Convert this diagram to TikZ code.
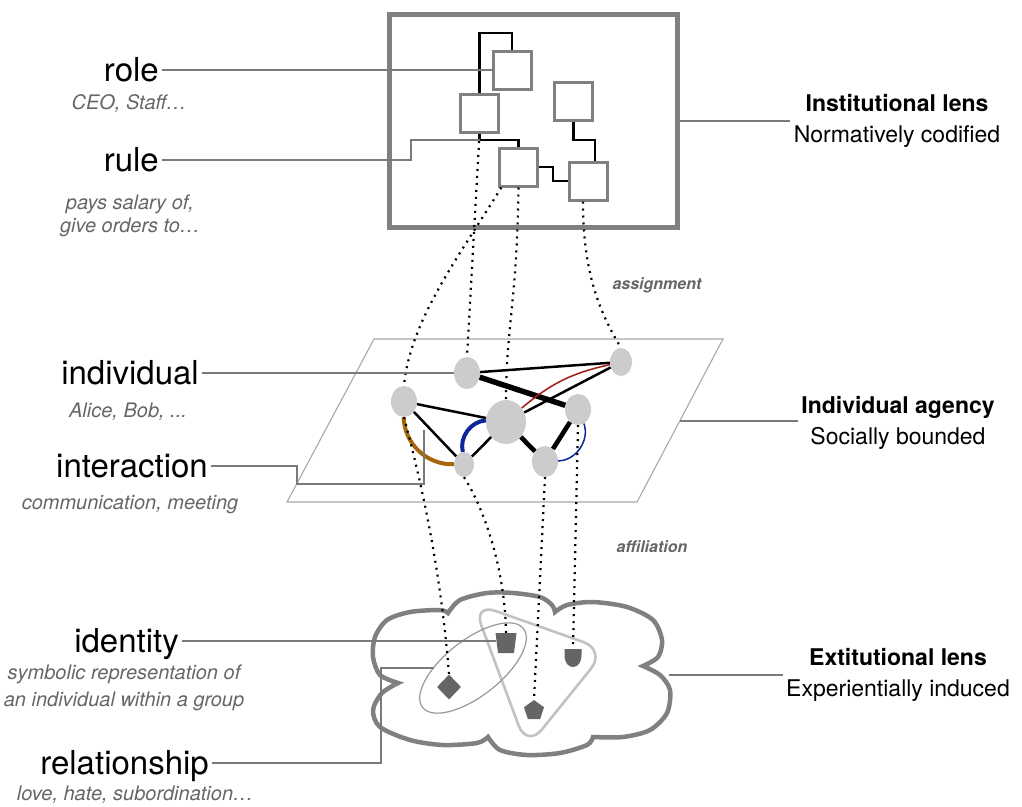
\documentclass[tikz,border=0pt]{standalone}
\usepackage{fontspec}
\setmainfont{TeX Gyre Heros}
\usetikzlibrary{shapes.geometric}

\definecolor{boxgray}{HTML}{808080}
\definecolor{agentgray}{HTML}{CCCCCC}
\definecolor{notegray}{HTML}{666666}
\definecolor{leadgray}{HTML}{7A7A7A}
\definecolor{planegray}{HTML}{A8A8A8}
\definecolor{markgray}{HTML}{656565}
\definecolor{ringgray}{HTML}{999999}
\definecolor{groupgray}{HTML}{C2C2C2}
\definecolor{brownedge}{HTML}{A6650A}
\definecolor{blueedge}{HTML}{0B2699}
\definecolor{rededge}{HTML}{A51A12}

\begin{document}
\begin{tikzpicture}[x=1pt,y=-1pt,
  term/.style={anchor=east,inner xsep=3pt,inner ysep=0pt,text height=23pt,text depth=0pt,font=\fontsize{33}{36}\selectfont},
  note/.style={align=center,text=notegray,font=\fontsize{20}{23}\selectfont\itshape},
  lens/.style={align=center,font=\fontsize{23}{31}\selectfont},
  tag/.style={text=notegray,font=\fontsize{16}{18}\selectfont\bfseries\itshape},
  post/.style={draw=boxgray,line width=3pt,minimum size=38pt,inner sep=0pt},
  agent/.style={ellipse,fill=agentgray,inner sep=0pt},
  marker/.style={fill=markgray,inner sep=0pt},
  leader/.style={draw=leadgray,line width=1.1pt},
  tie/.style={line width=2.5pt},
  strongtie/.style={line width=4.6pt},
  dots/.style={line width=2.2pt,dash pattern=on 2pt off 5pt}]
  \useasboundingbox (0,0) rectangle (1022,806);

  \node [draw=boxgray,line width=5pt,minimum width=288pt,minimum height=213pt] (inst) at (533.5,121) {};
  \node [post] (sqA) at (512,70) {};
  \node [post] (sqB) at (479.5,113.5) {};
  \node [post] (sqC) at (573.5,101.5) {};
  \node [post] (sqD) at (518.5,167) {};
  \node [post] (sqE) at (588,181) {};
  \draw [tie] (sqB.north) -- (sqB.north |- 0,33) -| (sqA.north);
  \draw [tie] (sqB.south) -- (sqB.south |- 0,140) -| (sqD.north);
  \draw [tie] (sqD.east) -| (553,181) -- (sqE.west);
  \draw [tie] (sqC.south) |- ([xshift=7pt]sqE.north |- 0,140) -- ([xshift=7pt]sqE.north);
  \coordinate (ruleend) at (sqB.south |- 0,140);

  \coordinate (pA) at (374,339);
  \coordinate (pB) at (723,339);
  \coordinate (pC) at (637,502);
  \coordinate (pD) at (287,502);
  \coordinate (planeR) at (680,421);
  \draw [planegray,line width=1.1pt] (pA) -- (pB) -- (pC) -- (pD) -- cycle;

  \node [agent,minimum width=26pt,minimum height=32pt] (a1) at (467,373) {};
  \node [agent,minimum width=22pt,minimum height=28pt] (a2) at (621,362) {};
  \node [agent,minimum width=26pt,minimum height=31pt] (a3) at (404,401.5) {};
  \node [agent,minimum width=40pt,minimum height=44pt] (a4) at (506,422) {};
  \node [agent,minimum width=26pt,minimum height=31pt] (a5) at (578,409.5) {};
  \node [agent,minimum width=20pt,minimum height=25pt] (a6) at (464,464.5) {};
  \node [agent,minimum width=26pt,minimum height=31pt] (a7) at (545,461.5) {};
  \draw [tie] (a1) -- (a2);
  \draw [line width=5.5pt] (a1) -- (a5);
  \draw [tie] (a2) -- (a4);
  \draw [rededge,line width=1.5pt] (a4) to [bend left=14] (a2);
  \draw [tie] (a3) -- (a4);
  \draw [tie] (a3) -- (a6);
  \draw [tie] (a4) -- (a6);
  \draw [strongtie] (a4) -- (a7);
  \draw [strongtie] (a5) -- (a7);
  \draw [brownedge,line width=4pt] (a3) to [bend right=45] (a6);
  \draw [blueedge,line width=4pt] (a4) to [bend right=50] (a6);
  \draw [blueedge,line width=1.5pt] (a5) to [bend left=55] (a7);
  \coordinate (tie36) at (424,430);

  \draw [boxgray,line width=4.5pt]
    plot [smooth] coordinates {(398,683) (380,675) (373,657) (375,637) (387,620) (410,612) (440,610) (448,613)}
    -- plot [smooth] coordinates {(448,613) (460,600) (487,593) (513,593) (540,597) (552,605) (555,612)}
    -- plot [smooth] coordinates {(555,612) (567,605) (593,602) (627,607) (653,620) (662,640) (658,657) (643,666)}
    -- plot [smooth] coordinates {(643,666) (660,675) (670,690) (667,713) (650,730) (623,737) (593,737)}
    -- plot [smooth] coordinates {(593,737) (587,745) (560,753) (527,755) (500,750) (488,737)}
    -- plot [smooth] coordinates {(488,737) (477,743) (443,745) (410,740) (380,727) (373,710) (382,693) (398,683)}
    -- cycle;
  \coordinate (cloudR) at (669,675);
  \draw [groupgray,line width=2.6pt,rounded corners=24pt] (473,603) -- (606,650) -- (527,748) -- cycle;
  \draw [ringgray,line width=1.2pt,rotate around={38:(473,668)}] (473,668) ellipse [x radius=64pt,y radius=28pt];
  \coordinate (ringL) at (434,668);

  \node [marker,diamond,minimum width=24pt,minimum height=25pt] (diam) at (449,687) {};
  \node [marker,regular polygon,regular polygon sides=5,minimum size=21pt] (penta) at (534,710.5) {};
  \coordinate (bucket) at (506,633);
  \fill [markgray] (bucket) ++(-10.5,0) -- ++(21,0) -- ++(-2.5,20) -- ++(-16,0) -- cycle;
  \coordinate (shield) at (573,649);
  \fill [markgray] (shield) ++(-8.5,0) -- ++(17,0) -- ++(0,6) .. controls +(0,8) and +(4.5,0) .. ++(-8.5,12) .. controls +(-4.5,0) and +(0,8) .. ++(-8.5,-12) -- cycle;

  \draw [dots] (sqB.south) -- (a1.north);
  \draw [dots] (sqD.230) .. controls (460,255) and (410,320) .. (a3.north);
  \draw [dots] (sqD.south) .. controls (517,300) and (506,330) .. (a4.north);
  \draw [dots] ([xshift=-5pt]sqE.south) .. controls (583,270) and (598,310) .. (a2.north);
  \draw [dots] (a3.south) .. controls (418,470) and (440,560) .. (diam.north);
  \draw [dots] (a6.south) .. controls (485,510) and (505,570) .. (bucket);
  \draw [dots] (a7.south) -- (penta.north);
  \draw [dots] (a5.south) -- (shield);

  \node [tag] (assign) at (657,285) {assignment};
  \node [tag] (affil) at (652,547) {affiliation};

  \node [term] (role) at (162,70) {role};
  \node [note] (roleex) at (129,104) {CEO, Staff…};
  \node [term] (rule) at (162,160) {rule};
  \node [note] (ruleex) at (130,216) {pays salary of,\\give orders to…};
  \node [term] (individual) at (202,373) {individual};
  \node [note] (individualex) at (128,412) {Alice, Bob, ...};
  \node [term] (interaction) at (211,466) {interaction};
  \node [note] (interactionex) at (130,505) {communication, meeting};
  \node [term] (identity) at (182,641) {identity};
  \node [note,font=\fontsize{20}{27}\selectfont\itshape] (identityex) at (124,688) {symbolic representation of\\an individual within a group};
  \node [term] (relationship) at (212,763) {relationship};
  \node [note] (relationshipex) at (135,795) {love, hate, subordination…};

  \node [lens] (lensI) at (897,121) {\textbf{Institutional lens}\\Normatively codified};
  \node [lens] (lensA) at (898,423) {\textbf{Individual agency}\\Socially bounded};
  \node [lens] (lensE) at (898,675) {\textbf{Extitutional lens}\\Experientially induced};

  \draw [leader] (role.east) -- (sqA.west);
  \draw [leader] (rule.east) -| (411,140) -- (ruleend);
  \draw [leader] (individual.east) -- (a1.west);
  \draw [leader] (interaction.east) -| (297,484) -| (tie36);
  \draw [leader] (identity.east) -- ([xshift=-10.5pt]identity.east -| bucket);
  \draw [leader] (relationship.east) -| (381,668) -- (ringL);
  \draw [leader] (inst.east) -- (lensI.west);
  \draw [leader] (planeR) -- (planeR -| lensA.west);
  \draw [leader] (cloudR) -- (cloudR -| lensE.west);
\end{tikzpicture}
\end{document}
